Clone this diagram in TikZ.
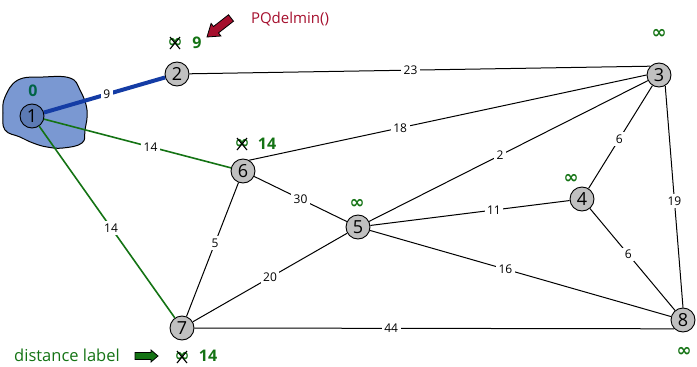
\documentclass[tikz,border=0pt]{standalone}
\usepackage{fontspec}
\setmainfont{Open Sans}
\newfontfamily\dejavu{DejaVu Sans}
\definecolor{dgreen}{RGB}{20,115,20}
\definecolor{tealg}{RGB}{0,100,70}
\definecolor{blobblue}{RGB}{122,152,210}
\definecolor{nodeblue}{RGB}{92,122,180}
\definecolor{edgeblue}{RGB}{20,60,165}
\definecolor{dred}{RGB}{165,15,45}
\definecolor{nodegray}{RGB}{192,192,192}
\begin{document}
\begin{tikzpicture}[x=1pt,y=-1pt,
  vtx/.style={circle,draw=black,line width=0.9pt,fill=nodegray,minimum size=24pt,inner sep=0pt,font=\fontsize{18}{18}\selectfont},
  edge/.style={draw=black,line width=1pt},
  gedge/.style={draw=dgreen,line width=1.6pt},
  bedge/.style={draw=edgeblue,line width=4pt},
  wt/.style={fill=white,inner sep=2.5pt,font=\fontsize{12}{12}\selectfont},
  dist/.style={text=dgreen,font=\bfseries\fontsize{16}{16}\selectfont,inner sep=0pt},
  inf/.style={text=dgreen,font=\dejavu\bfseries\fontsize{18}{18}\selectfont,inner sep=0pt},
  cross/.style={draw=black,line width=1.1pt},
  note/.style={font=\fontsize{15}{15}\selectfont,inner sep=0pt}
]
\useasboundingbox (0,0) rectangle (697,367);
% blob
\filldraw[fill=blobblue,draw=black,line width=1pt] plot[smooth cycle,tension=0.7] coordinates
 {(5,97) (18,80) (43,77) (70,78) (80,90) (87,110) (85,130) (82,143) (63,148) (47,147) (33,143) (20,137) (5,130) (3,113)};
% vertices
\node[vtx,fill=nodeblue] (n1) at (32,116) {1};
\node[vtx] (n2) at (177,74) {2};
\node[vtx] (n3) at (659,75) {3};
\node[vtx] (n4) at (582,199) {4};
\node[vtx] (n5) at (358,227) {5};
\node[vtx] (n6) at (243,171) {6};
\node[vtx] (n7) at (182,328) {7};
\node[vtx] (n8) at (683,320) {8};
% edges
\draw[bedge] (n1) -- node[wt,pos=0.52]{9} (n2);
\draw[gedge] (n1) -- node[wt,pos=0.57]{14} (n6);
\draw[gedge] (n1) -- node[wt,pos=0.53]{14} (n7);
\draw[edge] (n2) -- node[wt,pos=0.48]{23} (n3.135);
\draw[edge] (n6.60) -- node[wt,pos=0.38]{18} (n3.west);
\draw[edge] (n5) -- node[wt,pos=0.47]{2} (n3);
\draw[edge] (n4) -- node[wt,pos=0.48]{6} (n3);
\draw[edge] (n3.-60) -- node[wt,pos=0.52]{19} (n8.north);
\draw[edge] (n6) -- node[wt,pos=0.5]{30} (n5);
\draw[edge] (n5) -- node[wt,pos=0.62]{11} (n4);
\draw[edge] (n7) -- node[wt,pos=0.55]{5} (n6);
\draw[edge] (n7) -- node[wt,pos=0.5]{20} (n5);
\draw[edge] (n5) -- node[wt,pos=0.45]{16} (n8);
\draw[edge] (n4) -- node[wt,pos=0.45]{6} (n8);
\draw[edge] (n7.east) -- node[wt,pos=0.41]{44} (n8.225);
% distance labels
\node[dist,text=tealg] (d1) at (33,91) {0};
\node[inf] (i2) at (175,43) {∞};
\draw[cross] (i2.center) +(-5,-6) -- +(5,6) (i2.center) +(-5,6) -- +(5,-6);
\node[dist] (d2) at (197,43) {9};
\node[inf] (i6) at (242,144) {∞};
\draw[cross] (i6.center) +(-5,-6) -- +(5,6) (i6.center) +(-5,6) -- +(5,-6);
\node[dist] (d6) at (267,144) {14};
\node[inf] (i7) at (182,357) {∞};
\draw[cross] (i7.center) +(-5,-6) -- +(5,6) (i7.center) +(-5,6) -- +(5,-6);
\node[dist] (d7) at (208,356) {14};
\node[inf] (i3) at (659,34) {∞};
\node[inf] (i4) at (571,179) {∞};
\node[inf] (i5) at (357,204) {∞};
\node[inf] (i8) at (684,352) {∞};
% annotations
\node[note,text=dred] (pq) at (290,19) {PQdelmin()};
\filldraw[fill=dred,draw=black,line width=0.8pt] (228.5,14.8) -- (213.5,26.5) -- (211.1,23.4) -- (207,37) -- (220.9,36.0) -- (218.5,32.9) -- (233.5,21.2) -- cycle;
\node[note,text=dgreen,font=\fontsize{16.5}{16.5}\selectfont] (dl) at (67,355) {distance label};
\filldraw[fill=dgreen,draw=black,line width=0.8pt] (135,352.5) -- (151,352.5) -- (151,350) -- (158,356) -- (151,362) -- (151,359.5) -- (135,359.5) -- cycle;
\end{tikzpicture}
\end{document}
